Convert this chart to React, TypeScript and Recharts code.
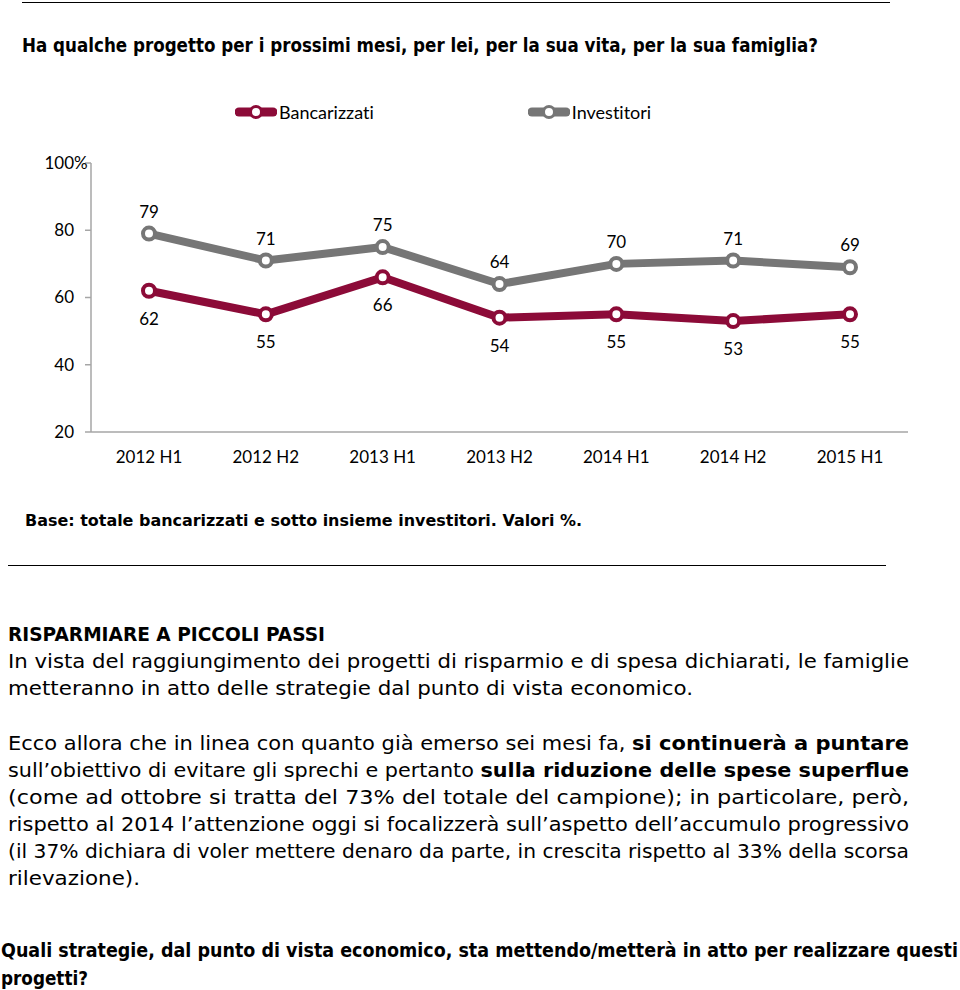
import React from 'react';
import { LineChart, Line, XAxis, YAxis, Legend, LabelList } from 'recharts';

const categories = ['2012 H1', '2012 H2', '2013 H1', '2013 H2', '2014 H1', '2014 H2', '2015 H1'];
const bancarizzati = [62, 55, 66, 54, 55, 53, 55];
const investitori = [79, 71, 75, 64, 70, 71, 69];
const yTicks = [20, 40, 60, 80, 100];
const boundaryTicks = [0, 1, 2, 3, 4, 5, 6, 7];

const RED = '#8C0B38';
const GRAY = '#767676';
const AXIS = '#A6A6A6';
const CHART_FONT = 'Lato, "Open Sans", sans-serif';
const DOC_FONT = '"DejaVu Sans", Verdana, sans-serif';

const data = categories.map((c, i) => ({
  cat: c,
  Bancarizzati: bancarizzati[i],
  Investitori: investitori[i],
}));

const series = [
  { key: 'Bancarizzati', color: RED },
  { key: 'Investitori', color: GRAY },
];

const YTick = (props: any) => {
  const { x, y, payload } = props;
  const v = payload.value;
  return (
    <g>
      <text x={x} y={y} dy="0.35em" textAnchor="end" fontSize={17} fontFamily={CHART_FONT} fill="#000">
        {v}
      </text>
      {v === 100 ? (
        <text x={x} y={y} dy="0.35em" textAnchor="start" fontSize={17} fontFamily={CHART_FONT} fill="#000">
          %
        </text>
      ) : null}
    </g>
  );
};

const LegendContent = () => (
  <div style={{ display: 'flex', alignItems: 'center', paddingLeft: 235, fontFamily: CHART_FONT, fontSize: 18, color: '#000', fontVariantLigatures: 'none' }}>
    {series.map((s, i) => (
      <div key={s.key} style={{ display: 'flex', alignItems: 'center', marginRight: i === 0 ? 154 : 0 }}>
        <svg width={42} height={16} style={{ display: 'block' }}>
          <line x1={4} y1={8} x2={38} y2={8} stroke={s.color} strokeWidth={9} strokeLinecap="round" />
          <circle cx={21} cy={8} r={5.5} fill="#fff" stroke={s.color} strokeWidth={3} />
        </svg>
        <span style={{ marginLeft: 2 }}>{s.key}</span>
      </div>
    ))}
  </div>
);

type Seg = { t: string; b?: boolean };
type DocLine = { segs: Seg[]; x: number; y: number; w: number; size: number; bold?: boolean };

const docLines: DocLine[] = [
  { segs: [{ t: 'Ha qualche progetto per i prossimi mesi, per lei, per la sua vita, per la sua famiglia?' }], x: 22, y: 52, w: 796, size: 19, bold: true },
  { segs: [{ t: 'Base: totale bancarizzati e sotto insieme investitori. Valori %.' }], x: 25, y: 526, w: 557, size: 16, bold: true },
  { segs: [{ t: 'RISPARMIARE A PICCOLI PASSI' }], x: 8, y: 641, w: 317, size: 20, bold: true },
  { segs: [{ t: 'In vista del raggiungimento dei progetti di risparmio e di spesa dichiarati, le famiglie' }], x: 8, y: 668, w: 901, size: 20 },
  { segs: [{ t: 'metteranno in atto delle strategie dal punto di vista economico.' }], x: 8, y: 695, w: 685, size: 20 },
  { segs: [{ t: 'Ecco allora che in linea con quanto già emerso sei mesi fa, ' }, { t: 'si continuerà a puntare', b: true }], x: 8, y: 750, w: 901, size: 20 },
  { segs: [{ t: 'sull’obiettivo di evitare gli sprechi e pertanto ' }, { t: 'sulla riduzione delle spese superflue', b: true }], x: 8, y: 777, w: 901, size: 20 },
  { segs: [{ t: '(come ad ottobre si tratta del 73% del totale del campione); in particolare, però,' }], x: 8, y: 804, w: 901, size: 20 },
  { segs: [{ t: 'rispetto al 2014 l’attenzione oggi si focalizzerà sull’aspetto dell’accumulo progressivo' }], x: 8, y: 831, w: 901, size: 20 },
  { segs: [{ t: '(il 37% dichiara di voler mettere denaro da parte, in crescita rispetto al 33% della scorsa' }], x: 8, y: 858, w: 901, size: 20 },
  { segs: [{ t: 'rilevazione).' }], x: 8, y: 885, w: 132, size: 20 },
  { segs: [{ t: 'Quali strategie, dal punto di vista economico, sta mettendo/metterà in atto per realizzare questi' }], x: 1, y: 957, w: 957, size: 19, bold: true },
  { segs: [{ t: 'progetti?' }], x: 1, y: 985, w: 87, size: 19, bold: true },
];

export default function App() {
  return (
    <div style={{ position: 'absolute', left: 0, top: 0, width: 960, height: 990, background: '#fff', overflow: 'hidden' }}>
      <svg width={960} height={990} style={{ position: 'absolute', left: 0, top: 0 }}>
        <line x1={22} y1={2.5} x2={890} y2={2.5} stroke="#000" strokeWidth={1} />
        <line x1={8} y1={565.5} x2={886} y2={565.5} stroke="#000" strokeWidth={1} />
        {docLines.map((l, i) => (
          <text
            key={i}
            x={l.x}
            y={l.y}
            fontSize={l.size}
            fontFamily={DOC_FONT}
            fontWeight={l.bold ? 'bold' : 'normal'}
            fill="#000"
            textLength={l.w}
            lengthAdjust="spacingAndGlyphs"
          >
            {l.segs.map((s, j) => (
              <tspan key={j} fontWeight={s.b || l.bold ? 'bold' : 'normal'}>{s.t}</tspan>
            ))}
          </text>
        ))}
      </svg>
      <div style={{ position: 'absolute', left: 0, top: 0 }}>
        <LineChart width={960} height={480} data={data} margin={{ top: 163, right: 52, left: 31, bottom: 18 }}>
          <Legend
            verticalAlign="top"
            align="center"
            layout="horizontal"
            content={<LegendContent />}
            wrapperStyle={{ position: 'absolute', top: 101, left: 0, width: 960, height: 0, overflow: 'visible' }}
          />
          <XAxis
            xAxisId="cat"
            dataKey="cat"
            type="category"
            padding={{ left: 58, right: 58 }}
            axisLine={{ stroke: AXIS, strokeWidth: 1.5 }}
            tickLine={false}
            tickSize={8}
            tickMargin={11}
            height={30}
            interval={0}
            tick={{ fontSize: 17, fontFamily: CHART_FONT, fill: '#000' }}
          />
          <XAxis
            xAxisId="edge"
            type="number"
            domain={[0, 7]}
            ticks={boundaryTicks}
            tick={false}
            tickSize={6}
            tickLine={{ stroke: AXIS, strokeWidth: 1.5 }}
            axisLine={false}
            height={0}
          />
          <YAxis
            type="number"
            domain={[20, 100]}
            ticks={yTicks}
            width={60}
            axisLine={{ stroke: AXIS, strokeWidth: 1.5 }}
            tickLine={{ stroke: AXIS, strokeWidth: 1.5 }}
            tickSize={6}
            tickMargin={11}
            tick={<YTick />}
            interval={0}
          />
          <Line
            xAxisId="cat"
            dataKey="Investitori"
            stroke={GRAY}
            strokeWidth={8}
            strokeLinejoin="round"
            dot={{ r: 6, fill: '#fff', stroke: GRAY, strokeWidth: 4 }}
            activeDot={false}
            isAnimationActive={false}
          >
            <LabelList dataKey="Investitori" position="top" offset={16} fontSize={17} fontFamily={CHART_FONT} fill="#000" />
          </Line>
          <Line
            xAxisId="cat"
            dataKey="Bancarizzati"
            stroke={RED}
            strokeWidth={8}
            strokeLinejoin="round"
            dot={{ r: 6, fill: '#fff', stroke: RED, strokeWidth: 4 }}
            activeDot={false}
            isAnimationActive={false}
          >
            <LabelList dataKey="Bancarizzati" position="bottom" offset={22} fontSize={17} fontFamily={CHART_FONT} fill="#000" />
          </Line>
        </LineChart>
      </div>
    </div>
  );
}
